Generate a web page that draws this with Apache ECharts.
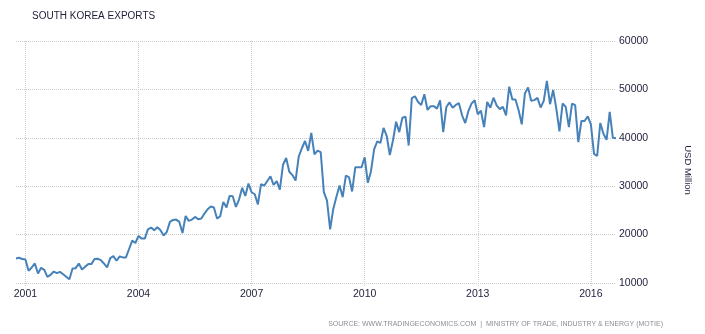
<!DOCTYPE html>
<html>
<head>
<meta charset="utf-8">
<script src="https://cdn.jsdelivr.net/npm/echarts@6/dist/echarts.min.js"></script>
<style>
  html, body { margin: 0; padding: 0; background: #fff; }
  #chart { width: 705px; height: 334px; }
</style>
</head>
<body>
<div id="chart"></div>
<script>
// monthly exports, USD million, Oct 2000 .. Sep 2016
const startYear = 2000
const startMonth = 10
const exportsUsdMn = [
  15080, 15220, 14940, 14870, 12510, 13200, 14040, 11960, 13140, 12720, 11270, 11680,
  12370, 12030, 12300, 11820, 11270, 10780, 13000, 13070, 14040, 12790, 13350, 13900,
  13900, 14940, 15010, 14730, 14040, 13200, 15150, 15560, 14590, 15490, 15290, 15290,
  17020, 18750, 18270, 19720, 19170, 19170, 21100, 21450, 20900, 21520, 20900, 19790,
  20550, 22620, 23030, 23100, 22620, 20340, 23860, 22830, 23100, 23660, 23170, 23310,
  24350, 25240, 25790, 25590, 23310, 23790, 26760, 25590, 28000, 27930, 25720, 27240,
  29660, 28000, 30550, 28750, 28340, 26230, 30420, 30100, 31070, 32050, 30250, 31040,
  29310, 34440, 35820, 32980, 32290, 31170, 36100, 37840, 39340, 37290, 41030, 36570,
  37340, 37020, 28770, 27040, 21080, 25310, 27800, 30150, 27730, 32160, 31880, 28910,
  33900, 33900, 33900, 35980, 30710, 33100, 37600, 39280, 38930, 42040, 40420, 36430,
  39450, 43320, 41180, 44150, 44360, 38400, 48180, 48590, 47410, 46790, 49010, 45750,
  46540, 46540, 46030, 47760, 41180, 46370, 47310, 46200, 46790, 47140, 44640, 43040,
  45510, 47070, 47760, 44840, 45600, 42210, 47410, 46200, 48280, 46700, 45920, 46390,
  44650, 50560, 47920, 47920, 45690, 42780, 49170, 50420, 47640, 47780, 48260, 46250,
  47640, 51740, 46940, 49860, 46040, 41320, 47080, 46390, 42220, 47080, 46740, 39100,
  43470, 43470, 44440, 42780, 36670, 36250, 43060, 40830, 39580, 45350, 40000, 39930
]
const tickYears = ['2001', '2004', '2007', '2010', '2013', '2016']
const yTicks = [10000, 20000, 30000, 40000, 50000, 60000]

const months = []
for (let i = 0; i < exportsUsdMn.length; i++) {
  const m = startMonth - 1 + i
  const y = startYear + Math.floor(m / 12)
  months.push(y + '-' + String(m % 12 + 1).padStart(2, '0'))
}
const isTick = (idx) => {
  const [y, m] = months[idx].split('-')
  return m === '01' && tickYears.includes(y)
}

const chart = echarts.init(document.getElementById('chart'))
const grid = '#c9c9c9'
const fontFamily = '"Liberation Sans", Arial, sans-serif'

chart.setOption({
  animation: false,
  title: {
    text: 'SOUTH KOREA EXPORTS',
    left: 32,
    top: 11,
    padding: 0,
    textStyle: { fontSize: 10, fontWeight: 'normal', color: '#1e1e3a', fontFamily }
  },
  grid: { left: 16, right: 89, top: 41, bottom: 51 },
  xAxis: {
    type: 'category',
    data: months,
    boundaryGap: false,
    axisLine: { show: false },
    axisTick: {
      show: true, interval: isTick, length: 4,
      lineStyle: { color: grid, type: 'dotted' }
    },
    axisLabel: {
      interval: isTick,
      formatter: (v) => v.slice(0, 4),
      margin: 6,
      fontSize: 10.5,
      color: '#1e1e3a',
      fontFamily
    },
    splitLine: { show: true, interval: isTick, lineStyle: { color: grid, type: 'dotted' } }
  },
  yAxis: {
    type: 'value',
    position: 'right',
    min: yTicks[0],
    max: yTicks[yTicks.length - 1],
    interval: 10000,
    axisLine: { show: false },
    axisTick: { show: false },
    axisLabel: {
      margin: 3, fontSize: 10.5, color: '#1e1e3a', fontFamily,
      formatter: (v) => String(v)
    },
    splitLine: { lineStyle: { color: grid, type: 'dotted' } }
  },
  graphic: [
    {
      type: 'text',
      x: 688, y: 170,
      rotation: -Math.PI / 2,
      style: {
        text: 'USD Million',
        fontSize: 9.5,
        fontFamily,
        fill: '#1e1e3a',
        align: 'center',
        verticalAlign: 'middle'
      }
    },
    {
      type: 'text',
      x: 663, y: 324,
      style: {
        text: 'SOURCE: WWW.TRADINGECONOMICS.COM  |  MINISTRY OF TRADE, INDUSTRY & ENERGY (MOTIE)',
        fontSize: 7,
        fontFamily,
        fill: '#8c8c96',
        align: 'right',
        verticalAlign: 'middle'
      }
    }
  ],
  series: [
    {
      name: 'Exports',
      type: 'line',
      data: exportsUsdMn,
      showSymbol: false,
      lineStyle: { color: '#4682b9', width: 2 },
      itemStyle: { color: '#4682b9' }
    }
  ]
})
</script>
</body>
</html>
